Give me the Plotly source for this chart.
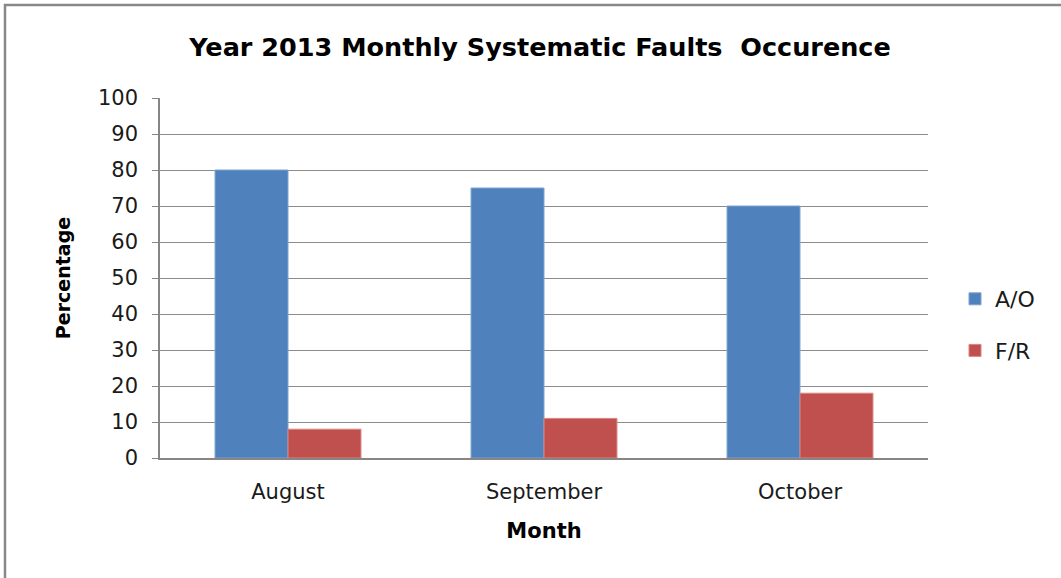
import plotly.graph_objects as go

months = ["August", "September", "October"]
ao_values = [80, 75, 70]
fr_values = [8, 11, 18]
y_ticks = [0, 10, 20, 30, 40, 50, 60, 70, 80, 90, 100]

W, H = 1061, 578
L, R, T, B = 160, 133, 98, 120
pw, ph = W - L - R, H - T - B

def px(x):
    return (x - L) / pw

def py(y):
    return (H - B - y) / ph

FONT = "DejaVu Sans"

fig = go.Figure()
fig.add_trace(go.Bar(x=months, y=ao_values, name="A/O", legendgroup="a",
                     marker=dict(color="#4F81BD", line=dict(color="#7FA3D3", width=1))))
fig.add_trace(go.Bar(x=months, y=fr_values, name="F/R", legendgroup="b",
                     marker=dict(color="#C0504D", line=dict(color="#D98583", width=1))))

fig.update_layout(
    width=W, height=H,
    margin=dict(l=L, r=R, t=T, b=B),
    paper_bgcolor="white", plot_bgcolor="white",
    barmode="group", bargap=0.43, bargroupgap=0,
    font=dict(family=FONT, color="#1a1a1a", size=21),
    title=dict(text="<b>Year 2013 Monthly Systematic Faults  Occurence</b>",
               x=px(540), xanchor="center", xref="paper",
               y=1 - 47 / H, yanchor="middle", font=dict(size=25.5, family=FONT, color="#000000")),
    legend=dict(x=px(955), xanchor="left", y=py(325), yanchor="middle",
                traceorder="grouped", tracegroupgap=20,
                font=dict(size=22, family=FONT), itemwidth=30),
    xaxis=dict(showline=True, linecolor="#868686", linewidth=1.5,
               ticks="", tickfont=dict(size=21), ticklabelstandoff=14,
               title=dict(text="<b>Month</b>", font=dict(size=21, color="#000000"), standoff=20)),
    yaxis=dict(range=[0, 100], tickvals=y_ticks, showgrid=True, gridcolor="#8c8c8c", gridwidth=1,
               showline=True, linecolor="#868686", linewidth=1.5,
               ticks="outside", ticklen=6, tickcolor="#868686",
               tickfont=dict(size=21), ticklabelstandoff=10,
               title=dict(text="<b>Percentage</b>", font=dict(size=19, color="#000000"), standoff=22)),
    shapes=[dict(type="rect", xref="paper", yref="paper",
                 x0=px(5), x1=px(1070), y0=py(590), y1=py(5),
                 line=dict(color="#888888", width=2.5), fillcolor="rgba(0,0,0,0)")],
)

fig.write_html("out.html", config={"displayModeBar": False},
               post_script="document.body.style.margin='0';")
